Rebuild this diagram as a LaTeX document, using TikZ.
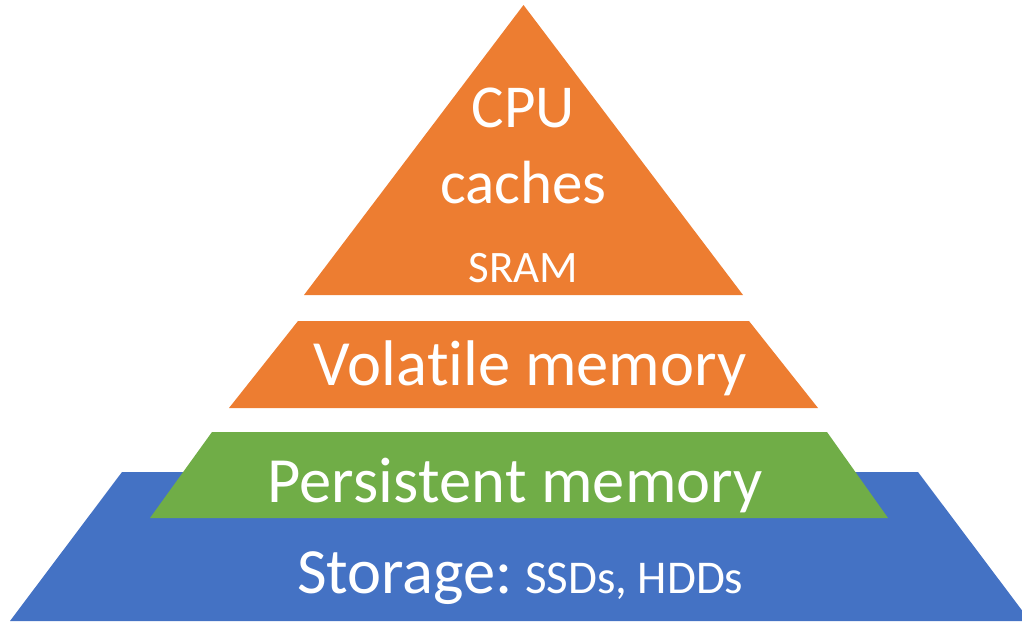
\documentclass[tikz,border=0pt]{standalone}
\usepackage{fontspec}
\setmainfont[Ligatures=NoCommon]{Carlito}
\definecolor{offorange}{HTML}{ED7D31}
\definecolor{offgreen}{HTML}{70AD47}
\definecolor{offblue}{HTML}{4472C4}
\begin{document}
\begin{tikzpicture}[x=1pt,y=-1pt,
  lbl/.style={text=white,anchor=base,inner sep=0pt},
  big/.style={font=\fontsize{61}{70}\selectfont},
  bigger/.style={font=\fontsize{64.5}{74}\selectfont},
  small/.style={font=\fontsize{45}{52}\selectfont}]
\useasboundingbox (0,0) rectangle (1022,621);
\begin{scope}
\clip (0,0) rectangle (1022,621);
% storage
\fill[offblue] (122,472) -- (918,472) -- (1030,621) -- (10,621) -- cycle;
% persistent
\fill[offgreen] (212,432) -- (827,432) -- (888,518) -- (150,518) -- cycle;
% volatile
\fill[offorange] (298,321) -- (749,321) -- (818,408) -- (229,408) -- cycle;
% CPU caches
\fill[offorange] (523.5,5) -- (743,295) -- (304,295) -- cycle;
\end{scope}
\node[lbl,big] (cpu) at (523.5,127) {CPU};
\node[lbl,big] (caches) at (523.5,203) {caches};
\node[lbl,small] (sram) at (523.5,282) {SRAM};
\node[lbl,bigger] (vol) at (530,385) {Vola\kern0pt t\kern0pt ile memory};
\node[lbl,bigger] (pers) at (515,502) {Persis\kern0pt t\kern0pt ent memory};
\node[lbl,anchor=base west] (stor) at (297,593) {\fontsize{64.5}{74}\selectfont Storage:\hspace{12pt}\fontsize{47}{54}\selectfont SSDs, HDDs};
\end{tikzpicture}
\end{document}
